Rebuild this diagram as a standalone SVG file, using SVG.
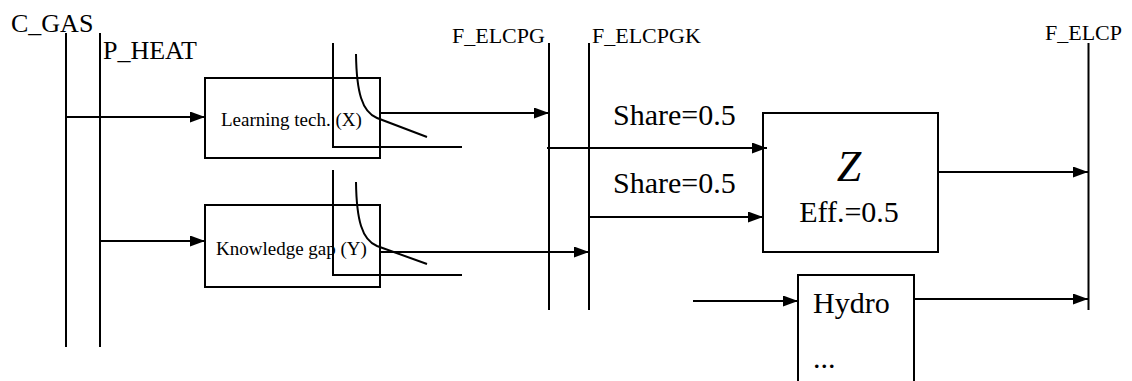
<svg xmlns="http://www.w3.org/2000/svg" width="1132" height="381" viewBox="0 0 1132 381">
<style>
.ln{stroke:#000;stroke-width:2;fill:none}
.ar{stroke:#000;stroke-width:2;fill:none;marker-end:url(#ah)}
.box{stroke:#000;stroke-width:2;fill:none}
text{font-family:"Liberation Serif","Times New Roman",serif;fill:#000}
.lbl{font-size:22px}
.big{font-size:26px}
.sm{font-size:19px}
.md{font-size:30px}
</style>
<defs>
<marker id="ah" viewBox="0 0 15 11" refX="15" refY="5.5" markerWidth="15" markerHeight="11" markerUnits="userSpaceOnUse" orient="auto">
<path d="M0,0 L15,5.5 L0,11 z" fill="#000"/>
</marker>
</defs>
<rect width="1132" height="381" fill="#fff"/>
<g id="c_gas">
<line class="ln" x1="66" y1="33" x2="66" y2="347"/>
<text class="big" x="11" y="31.5">C_GAS</text>
</g>
<g id="p_heat">
<line class="ln" x1="100" y1="33" x2="100" y2="347"/>
<text class="big" x="103" y="59">P_HEAT</text>
</g>
<g id="f_elcpg">
<line class="ln" x1="549" y1="43" x2="549" y2="310"/>
<text class="lbl" x="452" y="43">F_ELCPG</text>
</g>
<g id="f_elcpgk">
<line class="ln" x1="589" y1="43" x2="589" y2="310"/>
<text class="lbl" x="592" y="43">F_ELCPGK</text>
</g>
<g id="f_elcp">
<line class="ln" x1="1088.5" y1="43" x2="1088.5" y2="310"/>
<text class="lbl" x="1045" y="40">F_ELCP</text>
</g>
<g id="learning">
<rect class="box" x="205" y="78" width="175" height="80"/>
<path class="ln" d="M333,43 V147 H462"/>
<path class="ln" d="M356,54 C356.5,92 362,112 377,118 L427,137"/>
<text class="sm" x="221" y="126">Learning tech. (X)</text>
</g>
<g id="knowledge">
<rect class="box" x="205" y="205" width="175" height="82"/>
<path class="ln" d="M333,170 V275 H462"/>
<path class="ln" d="M356,182 C356.5,220 362,240 377,246 L427,264"/>
<text class="sm" x="216" y="255">Knowledge gap (Y)</text>
</g>
<g id="z">
<rect class="box" x="763" y="113" width="175" height="139"/>
<text x="849" y="181" font-size="44" font-style="italic" text-anchor="middle">Z</text>
<text class="md" x="849" y="222" text-anchor="middle">Eff.=0.5</text>
</g>
<g id="hydro">
<rect class="box" x="798" y="275" width="116" height="115"/>
<text class="md" x="813" y="313">Hydro</text>
<text class="md" x="813" y="368">...</text>
</g>
<g id="connectors">
<path class="ar" d="M66,117 H205"/>
<path class="ar" d="M100,241 H205"/>
<path class="ar" d="M380,113 H549"/>
<path class="ar" d="M380,252 H589"/>
<path class="ar" d="M547,148 H767"/>
<path class="ar" d="M589,217 H763"/>
<path class="ar" d="M938,172 H1088"/>
<path class="ar" d="M693,301 H798"/>
<path class="ar" d="M914,299 H1088"/>
<text class="md" x="613" y="125">Share=0.5</text>
<text class="md" x="613" y="193">Share=0.5</text>
</g>
</svg>
